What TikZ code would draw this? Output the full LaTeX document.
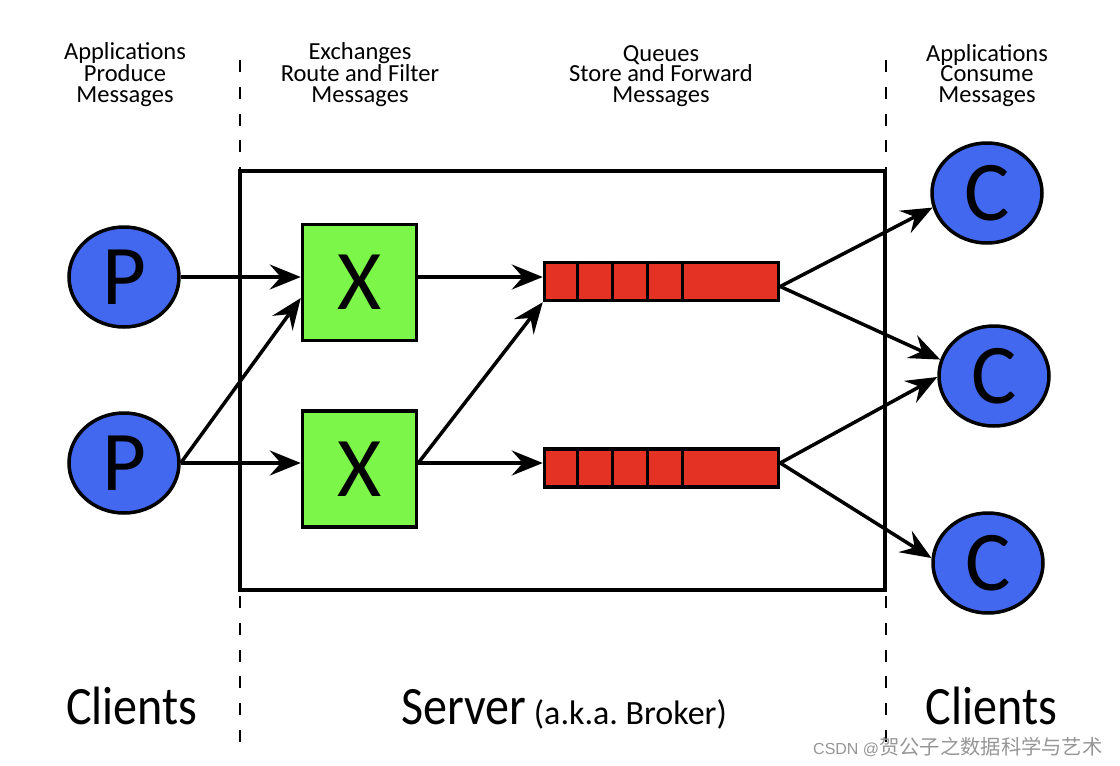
\documentclass[tikz,border=0pt]{standalone}
\usepackage{fontspec}
\setmainfont{Carlito}
\newfontfamily\cjkfont{Noto Sans CJK SC}
\newfontfamily\wmfont{Liberation Sans}
\newfontfamily\widefont[FakeStretch=0.89]{Carlito}
\usetikzlibrary{arrows.meta,shapes.geometric,calc}
\definecolor{pblue}{RGB}{66,104,240}
\definecolor{xgreen}{RGB}{124,246,72}
\definecolor{qred}{RGB}{228,50,36}
\definecolor{wmgray}{RGB}{150,150,150}
\frenchspacing
\tikzset{
  client/.style={ellipse,draw=black,line width=3.5pt,fill=pblue,minimum width=110pt,minimum height=100pt,inner sep=0pt,font=\fontsize{85}{85}\selectfont},
  exch/.style={rectangle,draw=black,line width=3.5pt,fill=xgreen,minimum width=114pt,minimum height=116pt,inner sep=0pt,font=\fontsize{85}{85}\selectfont},
  queue/.style={rectangle,draw=black,line width=3.5pt,fill=qred,minimum width=234pt,minimum height=38pt,inner sep=0pt},
  cell/.style={line width=3pt},
  flow/.style={line width=3.5pt,-{Stealth[length=31pt,width=25pt,inset=11pt]}},
  header/.style={align=center,font=\fontsize{24.5}{20.5}\selectfont,inner sep=0pt,anchor=base},
  zone/.style={line width=2pt,dash pattern=on 12pt off 14.8pt},
  server/.style={draw=black,line width=3.5pt,minimum width=645pt,minimum height=419pt,inner sep=0pt},
  bigtext/.style={inner sep=0pt,anchor=base},
}
\begin{document}
\begin{tikzpicture}[x=1pt,y=-1pt]
\useasboundingbox (0,0) rectangle (1120,766);
% zone separators
\coordinate (d1t) at (240,60);
\coordinate (d1b) at (240,746);
\coordinate (d2t) at (886,60);
\coordinate (d2b) at (886,746);
\draw[zone] (d1t) -- (d1b);
\draw[zone] (d2t) -- (d2b);
% server box
\node[server] (srv) at (562.5,380.5) {};
% headers (base = last line)
\node[header] (h1) at (125,102) {Applications\\Produce\\Messages};
\node[header] (h2) at (360,102) {Exchanges\\Route and Filter\\Messages};
\node[header] (h3) at (661,102) {Queues\\Store and Forward\\Messages};
\node[header] (h4) at (987,102) {Applications\\Consume\\Messages};
% producers
\node[client] (P1) at (124,277) {P};
\node[client] (P2) at (124,463) {P};
% exchanges
\node[exch] (X1) at (359.5,282.5) {X};
\node[exch] (X2) at (359.5,469) {X};
% queues
\node[queue] (Q1) at (661.5,281.5) {};
\node[queue] (Q2) at (661.5,468) {};
\foreach \q in {Q1,Q2}{
  \foreach \o in {35,70,105,140}{
    \draw[cell] ($(\q.north west)+(\o,0)$) -- ($(\q.south west)+(\o,0)$);
  }
}
% consumers
\node[client] (C1) at (987,193) {C};
\node[client] (C2) at (994,376) {C};
\node[client] (C3) at (988,563) {C};
% connectors
\coordinate (q1out) at ($(Q1.east)+(0,5)$);
\coordinate (q2out) at ($(Q2.east)+(0,-5)$);
\draw[flow] (P1.east) -- (P1.east -| X1.west);
\draw[flow] (P2.east) -- (P2.east -| X2.west);
\draw[flow] (P2.east) -- ($(X1.south west)!0.37!(X1.north west)$);
\draw[flow] (X1.east |- P1.east) -- (P1.east -| Q1.west);
\draw[flow] (X2.east |- P2.east) -- (P2.east -| Q2.west);
\draw[flow] (X2.east |- P2.east) -- (Q1.south west);
\draw[flow] (q1out) -- (C1.195);
\draw[flow] (q1out) -- (C2.163);
\draw[flow] (q2out) -- (C2.181);
\draw[flow] (q2out) -- (C3.175);
% bottom labels
\node[bigtext] (cl1) at (132,724) {\widefont\fontsize{54}{54}\selectfont Clients};
\node[bigtext] (sv) at (564,724) {{\widefont\fontsize{54}{54}\selectfont Server}{\fontsize{34}{34}\selectfont\ (a.k.a. Broker)}};
\node[bigtext] (cl2) at (991.5,724) {\widefont\fontsize{54}{54}\selectfont Clients};
% watermark
\node[inner sep=0pt,anchor=base west,text=wmgray] (wm) at (813,754) {{\wmfont\fontsize{16}{16}\selectfont CSDN @}{\cjkfont\fontsize{20.3}{20.3}\selectfont 贺公子之数据科学与艺术}};
\end{tikzpicture}
\end{document}
